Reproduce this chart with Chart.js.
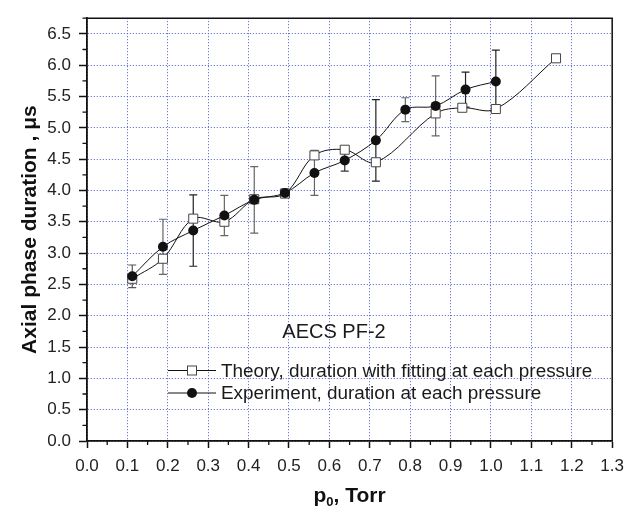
<!DOCTYPE html>
<html><head><meta charset="utf-8">
<script src="https://cdn.jsdelivr.net/npm/chart.js@4.4.1/dist/chart.umd.min.js"></script>
<style>html,body{margin:0;padding:0;background:#fff}canvas{display:block}</style>
</head><body>
<canvas id="c" width="632" height="507"></canvas>
<script>
// ---- data ----
const theoryPressure = [0.112, 0.188, 0.263, 0.340, 0.414, 0.490, 0.563, 0.638, 0.715, 0.863, 0.929, 1.012, 1.161];
const theoryDuration = [2.59, 2.91, 3.55, 3.50, 3.86, 3.95, 4.56, 4.65, 4.45, 5.23, 5.32, 5.30, 6.11];
const expPressure = [0.112, 0.188, 0.263, 0.340, 0.414, 0.490, 0.563, 0.638, 0.715, 0.788, 0.863, 0.937, 1.012];
const expDuration = [2.63, 3.10, 3.36, 3.60, 3.85, 3.96, 4.28, 4.48, 4.80, 5.29, 5.35, 5.61, 5.74];
const expError    = [0.18, 0.44, 0.57, 0.32, 0.53, 0.06, 0.36, 0.17, 0.65, 0.19, 0.48, 0.28, 0.50];
const xTickLabels = ['0.0','0.1','0.2','0.3','0.4','0.5','0.6','0.7','0.8','0.9','1.0','1.1','1.2','1.3'];
const yTickLabels = ['0.0','0.5','1.0','1.5','2.0','2.5','3.0','3.5','4.0','4.5','5.0','5.5','6.0','6.5'];
const legendTitle = 'AECS PF-2';
const theoryLabel = 'Theory, duration with fitting at each pressure';
const expLabel = 'Experiment, duration at each pressure';
const xTitleMain = 'p', xTitleSub = '0', xTitleRest = ', Torr';
const yTitle = 'Axial phase duration , \u03bcs';

const FONT = '"Liberation Sans", Arial, sans-serif';
const errColors = ['#555','#666','#222','#666','#666','#444','#666','#333','#222','#666','#666','#222','#222'];

const toXY = (xs, ys) => xs.map((x, i) => ({x, y: ys[i]}));

const decor = {
  id: 'decor',
  beforeDatasetsDraw(chart) {
    const {ctx, scales: {x, y}} = chart;
    ctx.save();
    ctx.lineWidth = 1.2;
    expPressure.forEach((p, i) => {
      const px = x.getPixelForValue(p);
      const y1 = y.getPixelForValue(expDuration[i] + expError[i]);
      const y2 = y.getPixelForValue(expDuration[i] - expError[i]);
      ctx.strokeStyle = errColors[i];
      ctx.beginPath();
      ctx.moveTo(px, y1); ctx.lineTo(px, y2);
      ctx.moveTo(px - 4, y1); ctx.lineTo(px + 4, y1);
      ctx.moveTo(px - 4, y2); ctx.lineTo(px + 4, y2);
      ctx.stroke();
    });
    ctx.restore();
  },
  afterDraw(chart) {
    const {ctx, chartArea: a, scales: {x, y}} = chart;
    ctx.save();
    // frame top / right
    ctx.strokeStyle = '#111';
    ctx.lineWidth = 1.5;
    ctx.beginPath();
    ctx.moveTo(a.left, a.top); ctx.lineTo(a.right, a.top); ctx.lineTo(a.right, a.bottom);
    ctx.stroke();
    // minor ticks
    ctx.lineWidth = 1.3;
    ctx.beginPath();
    for (let k = 0; k < 13; k++) {
      const px = x.getPixelForValue(0.05 + 0.1 * k);
      ctx.moveTo(px, a.bottom); ctx.lineTo(px, a.bottom + 4);
    }
    for (let k = 0; k < 14; k++) {
      const py = y.getPixelForValue(0.25 + 0.5 * k);
      ctx.moveTo(a.left, py); ctx.lineTo(a.left - 4.5, py);
    }
    ctx.stroke();
    // legend
    ctx.fillStyle = '#1a1a1a';
    ctx.textBaseline = 'middle';
    ctx.textAlign = 'center';
    ctx.font = '20px ' + FONT;
    ctx.fillText(legendTitle, 334, 332);
    ctx.textAlign = 'left';
    ctx.font = '18.9px ' + FONT;
    const rows = [[theoryLabel, 370.5, 'sq'], [expLabel, 393, 'ci']];
    rows.forEach(([t, ry, m]) => {
      ctx.strokeStyle = '#111'; ctx.lineWidth = 1;
      ctx.beginPath(); ctx.moveTo(168, ry); ctx.lineTo(216, ry); ctx.stroke();
      if (m === 'sq') {
        ctx.fillStyle = '#fff'; ctx.fillRect(187.5, ry - 4.5, 9, 9);
        ctx.strokeStyle = '#444'; ctx.strokeRect(187.5, ry - 4.5, 9, 9);
      } else {
        ctx.fillStyle = '#111'; ctx.beginPath(); ctx.arc(192, ry, 5, 0, Math.PI * 2); ctx.fill();
      }
      ctx.fillStyle = '#1a1a1a';
      ctx.fillText(t, 221, ry + 1);
    });
    // x title with subscript
    ctx.textBaseline = 'alphabetic';
    const fMain = 'bold 21px ' + FONT, fSub = 'bold 13px ' + FONT;
    ctx.font = fMain; const w1 = ctx.measureText(xTitleMain).width, w3 = ctx.measureText(xTitleRest).width;
    ctx.font = fSub; const w2 = ctx.measureText(xTitleSub).width;
    let sx = (a.left + a.right) / 2 - (w1 + w2 + w3) / 2;
    ctx.fillStyle = '#111';
    ctx.font = fMain; ctx.fillText(xTitleMain, sx, 502); sx += w1;
    ctx.font = fSub; ctx.fillText(xTitleSub, sx, 506); sx += w2;
    ctx.font = fMain; ctx.fillText(xTitleRest, sx, 502);
    ctx.restore();
  }
};

new Chart(document.getElementById('c'), {
  type: 'line',
  data: {
    datasets: [
      {
        label: expLabel, data: toXY(expPressure, expDuration), order: 0,
        borderColor: '#111', borderWidth: 1, tension: 0.35,
        pointStyle: 'circle', pointRadius: 5, pointBackgroundColor: '#111', pointBorderColor: '#111', pointBorderWidth: 0
      },
      {
        label: theoryLabel, data: toXY(theoryPressure, theoryDuration), order: 1,
        borderColor: '#111', borderWidth: 1, tension: 0.35,
        pointStyle: 'rect', pointRadius: 6.4, pointBackgroundColor: '#fff', pointBorderColor: '#444', pointBorderWidth: 1
      }
    ]
  },
  options: {
    responsive: false, animation: false, events: [],
    layout: {padding: {top: 13, right: 15, left: 0, bottom: 0}},
    plugins: {legend: {display: false}, tooltip: {enabled: false}, title: {display: false}},
    scales: {
      x: {
        type: 'linear', min: 0, max: 1.3,
        afterFit(s) { s.height = 66; },
        ticks: {stepSize: 0.1, includeBounds: false, padding: 8, color: '#222', maxRotation: 0, autoSkip: false,
          font: {family: FONT, size: 17},
          callback: (v) => xTickLabels[Math.round(v * 10)] ?? ''},
        grid: {color: '#4a5cc8', lineWidth: 1, drawTicks: true, tickLength: 7, tickColor: '#111', tickWidth: 1.5, tickBorderDash: []},
        border: {display: true, color: '#111', width: 1.8, dash: [1, 2]}
      },
      y: {
        type: 'linear', min: 0, max: 6.75,
        afterFit(s) { s.width = 87; },
        ticks: {stepSize: 0.5, includeBounds: false, padding: 8, color: '#222',
          font: {family: FONT, size: 17},
          callback: (v) => yTickLabels[Math.round(v * 2)] ?? ''},
        grid: {color: '#4a5cc8', lineWidth: 1, drawTicks: true, tickLength: 8, tickColor: '#111', tickWidth: 1.5, tickBorderDash: []},
        border: {display: true, color: '#111', width: 1.8, dash: [1, 2]},
        title: {display: true, text: yTitle, color: '#111', padding: {top: 18, bottom: 0},
          font: {family: FONT, size: 21, weight: 'bold'}}
      }
    }
  },
  plugins: [decor]
});
</script>
</body></html>
